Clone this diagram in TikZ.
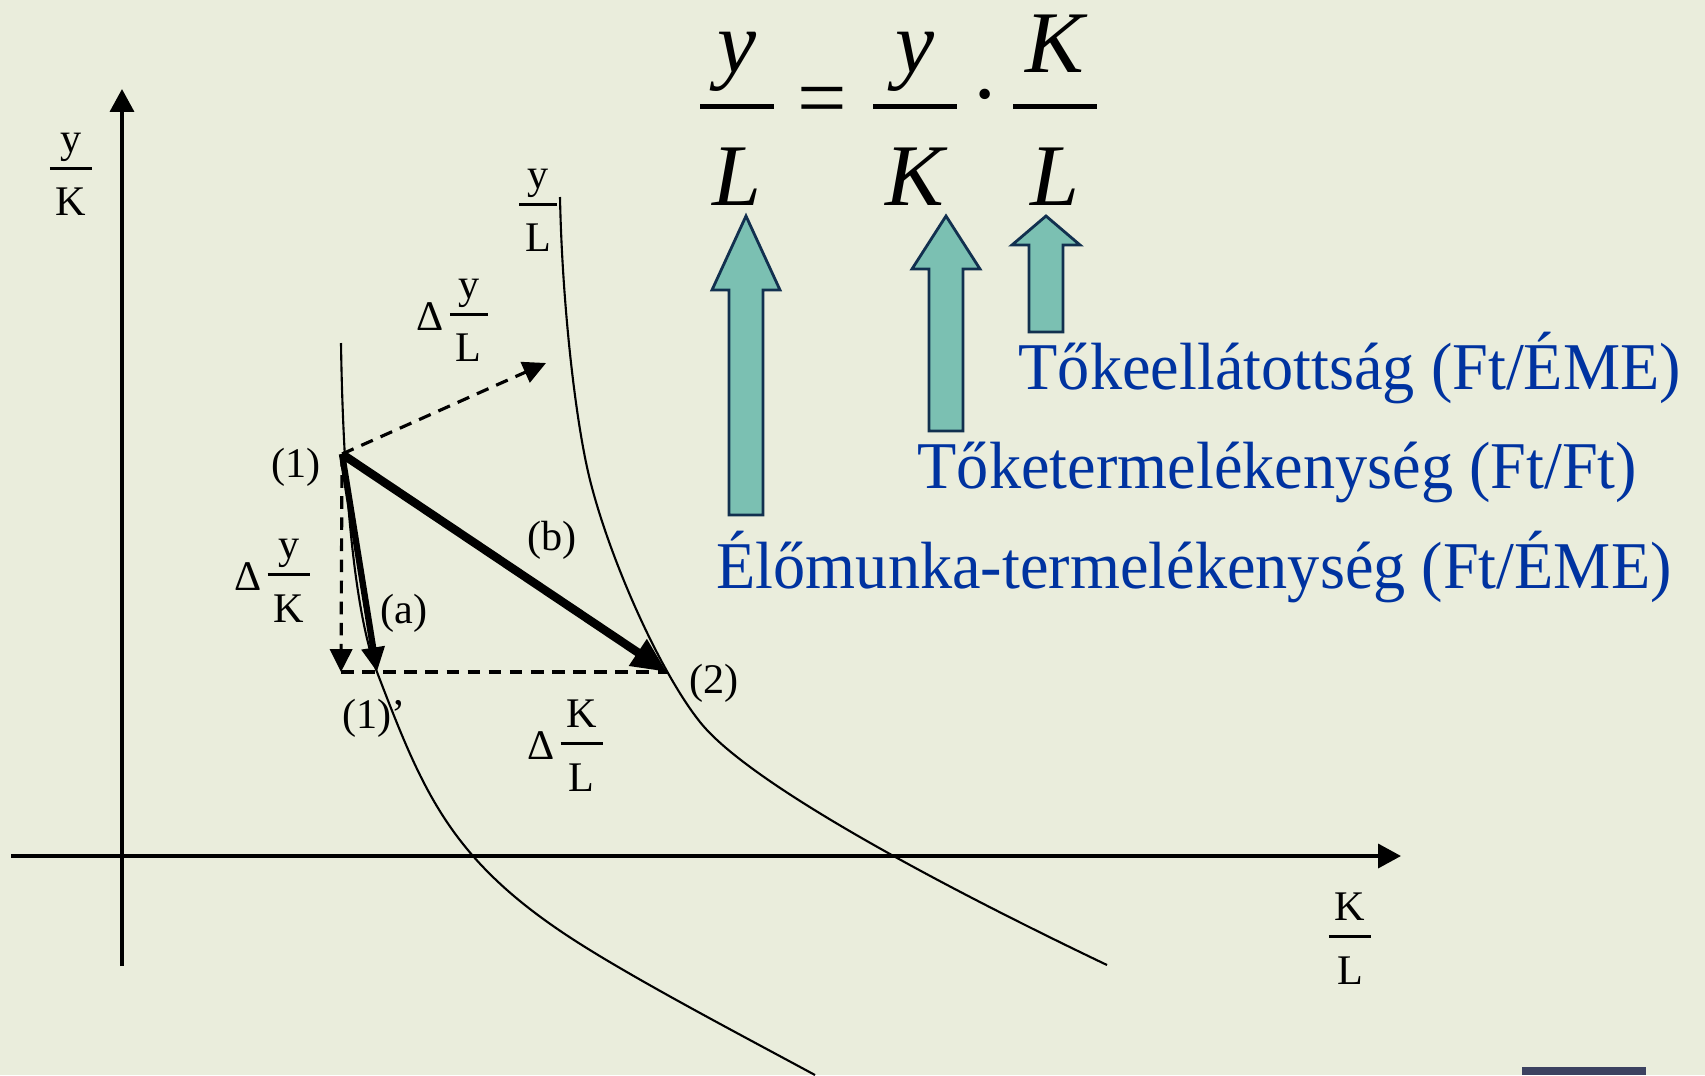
\documentclass[tikz,border=0pt]{standalone}
\usepackage{fontspec}
\setmainfont{Liberation Serif}
\newfontfamily\notefont[FakeStretch = 0.962]{Liberation Serif}
\usetikzlibrary{arrows.meta}
\definecolor{slide}{HTML}{EAEDDC}
\definecolor{arrowfill}{HTML}{7BC0B2}
\definecolor{arrowline}{HTML}{12304F}
\definecolor{labelblue}{HTML}{0033A0}
\definecolor{navbar}{HTML}{3C4260}
\newcommand{\qfrac}[2]{{\setlength{\arrayrulewidth}{0.05em}\begin{tabular}{@{\hspace{0.14em}}c@{\hspace{0.14em}}}#1\\\hline\rule{0pt}{1.1em}#2\end{tabular}}}
\newcommand{\uparrowbox}[4]{\draw [blockarrow] (#1-17,#4) -- (#1-17,#3) -- (#1-34,#3) -- (#1,#2) -- (#1+34,#3) -- (#1+17,#3) -- (#1+17,#4) -- cycle;}
\tikzset{
	lbl/.style = {font = \fontsize{12}{14.4}\selectfont, inner sep = 0pt},
	eqn/.style = {font = \fontsize{25}{30}\selectfont\itshape, inner sep = 0pt},
	eqop/.style = {font = \fontsize{25}{30}\selectfont, inner sep = 0pt},
	note/.style = {font = \notefont\fontsize{19}{22.8}\selectfont, text = labelblue, inner sep = 0pt, anchor = base west},
	curve/.style = {line width = 0.6pt},
	axis/.style = {line width = 1pt, -{Triangle[length = 6.5pt, width = 6.8pt]}},
	dashline/.style = {line width = 0.9pt, dash pattern = on 3.6pt off 2.4pt},
	dasharrow/.style = {dashline, -{Triangle[length = 6.5pt, width = 6.3pt]}},
	blockarrow/.style = {fill = arrowfill, draw = arrowline, line width = 0.8pt}
}
\begin{document}
\begin{tikzpicture} [x = 0.01cm, y = -0.01cm]
	\useasboundingbox (0,0) rectangle (1705,1075);
	\fill [slide] (0,0) rectangle (1705,1075);
	\fill [navbar] (1522,1067) rectangle (1646,1075);
	\coordinate (xstart) at (11,856);
	\coordinate (xend) at (1401,856);
	\coordinate (ystart) at (122,966);
	\coordinate (yend) at (122,89);
	\draw [axis] (xstart) -- (xend);
	\draw [axis] (ystart) -- (yend);
	\node [lbl] (ykaxis) at (71,174) {\qfrac{y}{K}};
	\node [lbl] (klaxis) at (1350,942) {\qfrac{K}{L}};
	\draw [curve] (341,343) .. controls (343,480) and (354,612) .. (377,672) .. controls (423,792) and (450,860) .. (574,940) .. controls (636,980) and (741,1035) .. (815,1075);
	\draw [curve] (560,197) .. controls (562,300) and (575,420) .. (590,480) .. controls (610,560) and (660,672) .. (700,722) .. controls (750,785) and (950,890) .. (1107,965);
	\node [lbl] (ylcurve) at (538,210) {\qfrac{y}{L}};
	\coordinate (p1) at (342,454);
	\coordinate (p1down) at (341,672);
	\coordinate (p1a) at (377,672);
	\coordinate (p2) at (667,672);
	\coordinate (pyl) at (546,363);
	\draw [dasharrow] (p1) -- (pyl);
	\draw [dasharrow] (p1) -- (p1down);
	\draw [dashline] (p1down) -- (p2);
	\draw [line width = 1.8pt, -{Triangle[length = 7pt, width = 6.3pt]}] (p1) -- (p1a);
	\draw [line width = 2.4pt, -{Triangle[length = 10pt, width = 8.5pt]}] (p1) -- (p2);
	\node [lbl] (one) at (296,467) {(1)};
	\node [lbl] (onep) at (374,718) {(1)’};
	\node [lbl] (two) at (714,683) {(2)};
	\node [lbl] (a) at (404,613) {(a)};
	\node [lbl] (b) at (552,540) {(b)};
	\node [lbl] (dyl) at (452,320) {Δ\hspace{0.15em}\qfrac{y}{L}};
	\node [lbl] (dyk) at (272,580) {Δ\hspace{0.15em}\qfrac{y}{K}};
	\node [lbl] (dkl) at (565,749) {Δ\hspace{0.15em}\qfrac{K}{L}};
	\node [eqn] (eqyl) at (737,118) {\qfrac{y}{L}};
	\node [eqop] (eqeq) at (822,107) {=};
	\node [eqn] (eqyk) at (915,118) {\qfrac{y}{K}};
	\node [eqop] (eqdot) at (985,106) {·};
	\node [eqn] (eqkl) at (1055,118) {\qfrac{K}{L}};
	\uparrowbox{746}{216}{290}{515}
	\uparrowbox{946}{216}{269}{431}
	\uparrowbox{1046}{216}{245}{332}
	\node [note] (capint) at (1018,389) {Tőkeellátottság (Ft/ÉME)};
	\node [note] (capprod) at (917,488) {Tőketermelékenység (Ft/Ft)};
	\node [note] (labprod) at (716,588) {Élőmunka-termelékenység (Ft/ÉME)};
\end{tikzpicture}
\end{document}
